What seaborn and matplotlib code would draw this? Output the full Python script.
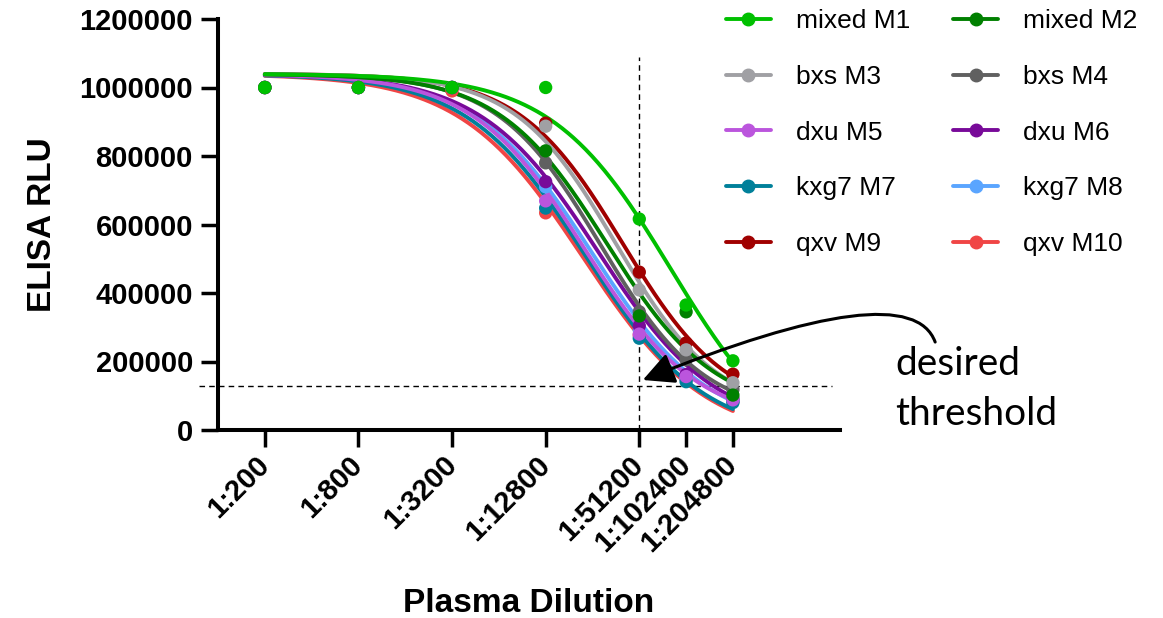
import numpy as np
import pandas as pd
import matplotlib
matplotlib.use("Agg")
import matplotlib.pyplot as plt
import seaborn as sns
from matplotlib.lines import Line2D
from matplotlib.ticker import NullLocator

# ---------------- data ----------------
dilutions = [200, 800, 3200, 12800, 51200, 102400, 204800]
tick_labels = ["1:200", "1:800", "1:3200", "1:12800", "1:51200", "1:102400", "1:204800"]
series_names = ["mixed M1", "mixed M2", "bxs M3", "bxs M4", "dxu M5",
                "dxu M6", "kxg7 M7", "kxg7 M8", "qxv M9", "qxv M10"]
colors = ["#00C000", "#008000", "#A0A0A4", "#606060", "#BB55DD",
          "#780A99", "#00809A", "#5AA5FF", "#A00000", "#F04545"]

m1 = [1000000, 1000000, 1000000, 1000000, 616000, 365000, 202000]
m2 = [1000000, 1000000, 1000000, 815000, 333000, 345000, 102000]
m3 = [1000000, 1000000, 1000000, 887000, 409000, 234000, 138000]
m4 = [1000000, 1000000, 1000000, 780000, 345000, 205000, 118000]
m5 = [1000000, 1000000, 1000000, 669000, 280000, 156000, 88000]
m6 = [1000000, 1000000, 1000000, 725000, 304000, 162000, 92000]
m7 = [1000000, 1000000, 1000000, 648000, 268000, 141000, 80000]
m8 = [1000000, 1000000, 1000000, 710000, 292000, 150000, 85000]
m9 = [1000000, 1000000, 1000000, 896000, 461000, 254000, 163000]
m10 = [1000000, 1000000, 990000, 634000, 277000, 148000, 84000]
series_values = [m1, m2, m3, m4, m5, m6, m7, m8, m9, m10]

# four-parameter logistic fit parameters (top, bottom, EC50 dilution, Hill slope)
fit_top = [1040000, 1040000, 1040000, 1040000, 1040000, 1040000, 1040000, 1040000, 1040000, 1040000]
fit_bottom = [-100000, 50000, 50000, 40000, 20000, 0, -20000, 0, 50000, -30000]
fit_ec50 = [81700, 31600, 36100, 28900, 22700, 27900, 23000, 25200, 40000, 22200]
fit_hill = [1.13, 1.25, 1.34, 1.30, 1.20, 1.15, 1.14, 1.16, 1.30, 1.10]

threshold = 128000
threshold_dilution = 51200

# ---------------- frames ----------------
pts_rows = []
curve_rows = []
grid = np.geomspace(dilutions[0], dilutions[-1], 300)
for name, vals, t, b, ec, h in zip(series_names, series_values, fit_top, fit_bottom, fit_ec50, fit_hill):
    for d, v in zip(dilutions, vals):
        pts_rows.append({"series": name, "dil": d, "rlu": v})
    yfit = b + (t - b) / (1.0 + (grid / ec) ** h)
    for d, v in zip(grid, yfit):
        curve_rows.append({"series": name, "dil": d, "rlu": v})
order = list(reversed(series_names))
pts = pd.DataFrame(pts_rows)
pts["series"] = pd.Categorical(pts["series"], categories=order, ordered=True)
pts = pts.sort_values("series", kind="stable")
pts["series"] = pts["series"].astype(str)
curves = pd.DataFrame(curve_rows)
palette = dict(zip(series_names, colors))

# ---------------- style ----------------
sns.set_style("ticks")
plt.rcParams["font.family"] = ["Liberation Sans", "DejaVu Sans"]
plt.rcParams["text.color"] = "black"
plt.rcParams["axes.labelcolor"] = "black"
plt.rcParams["xtick.color"] = "black"
plt.rcParams["ytick.color"] = "black"
plt.rcParams["axes.edgecolor"] = "black"

W, H = 1163, 618
fig = plt.figure(figsize=(W / 100, H / 100), dpi=100)
ax = fig.add_axes([218 / W, 188 / H, 622 / W, 411 / H])

sns.lineplot(data=curves, x="dil", y="rlu", hue="series", hue_order=order,
             palette=palette, linewidth=2.8, legend=False, estimator=None,
             sort=False, ax=ax, zorder=2)
sns.scatterplot(data=pts, x="dil", y="rlu", hue="series", palette=palette,
                s=92, linewidth=0, legend=False, ax=ax, zorder=3)

ax.set_xscale("log", base=2)
ax.set_xlim(100, 1000000)
ax.set_ylim(0, 1200000)
ax.xaxis.set_minor_locator(NullLocator())
ax.set_xticks(dilutions)
ax.set_xticklabels(tick_labels, rotation=45, ha="right", va="center",
                   rotation_mode="anchor", fontweight="bold", fontsize=21)
yt = [0, 200000, 400000, 600000, 800000, 1000000, 1200000]
ax.set_yticks(yt)
ax.set_yticklabels([str(v) for v in yt], fontweight="bold", fontsize=21)
ax.tick_params(axis="both", width=2.5, length=12, color="black", labelcolor="black")
ax.tick_params(axis="y", pad=6)
ax.tick_params(axis="x", pad=10)
sns.despine(ax=ax)
for s in ["left", "bottom"]:
    ax.spines[s].set_linewidth(2.9)
    ax.spines[s].set_color("black")

ax.set_xlabel("Plasma Dilution", fontsize=24, fontweight="bold", color="black")
ax.set_ylabel("ELISA RLU", fontsize=24, fontweight="bold", color="black")
ax.xaxis.set_label_coords(0.5, -0.385)
ax.yaxis.set_label_coords(-0.257, 0.5)

# threshold guide lines
ax.axvline(threshold_dilution, ymin=0, ymax=0.9075, color="black", lw=1.0,
           ls=(0, (4, 3)), zorder=1)
ax.axhline(threshold, xmin=-0.031, xmax=0.987, color="black", lw=1.0,
           ls=(0, (4, 3)), zorder=1, clip_on=False)

# annotation arrow
ax.annotate("", xy=(0.683, 0.1217), xycoords="axes fraction",
            xytext=(1.153, 0.214), textcoords="axes fraction",
            arrowprops=dict(arrowstyle="-|>,head_length=0.95,head_width=0.48",
                            connectionstyle="angle3,angleA=110,angleB=22",
                            color="black", lw=2.2, shrinkA=0, shrinkB=0,
                            mutation_scale=20),
            annotation_clip=False)
fig.text(895 / W, 1 - 375 / H, "desired", fontsize=28, family="Lato",
         ha="left", va="baseline", color="black")
fig.text(895 / W, 1 - 425 / H, "threshold", fontsize=28, family="Lato",
         ha="left", va="baseline", color="black")

# legend
handles = [Line2D([], [], color=c, lw=2.8, marker="o", markersize=9)
           for c in colors]
idx = [0, 2, 4, 6, 8, 1, 3, 5, 7, 9]
fig.legend([handles[i] for i in idx], [series_names[i] for i in idx],
           ncol=2, loc="upper left", bbox_to_anchor=(726 / W, 0.985),
           frameon=False, fontsize=19, borderpad=0, borderaxespad=0,
           handlelength=1.7, handletextpad=0.95, columnspacing=1.63,
           labelspacing=1.2, numpoints=1, labelcolor="black")

fig.savefig("out.png", dpi=100)
